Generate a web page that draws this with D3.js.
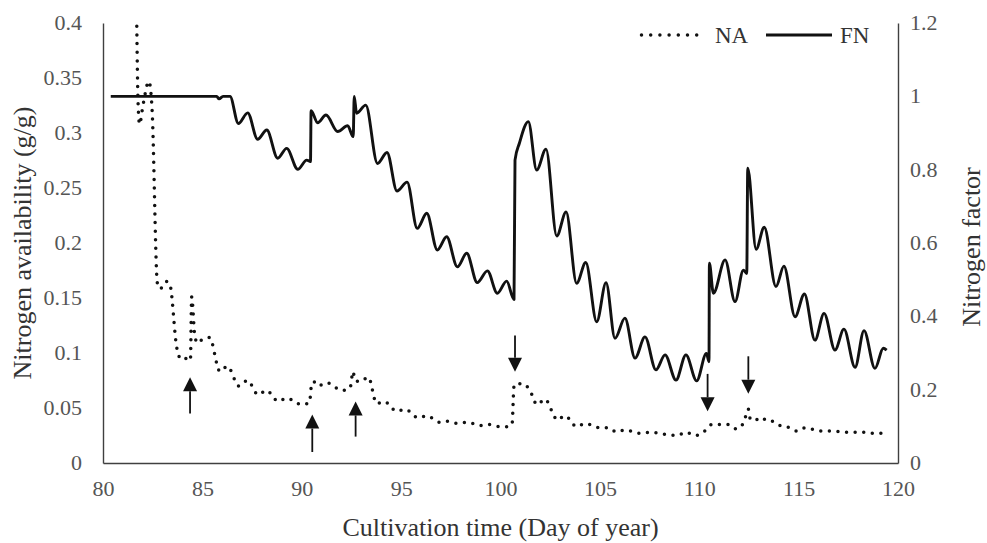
<!DOCTYPE html>
<html>
<head>
<meta charset="utf-8">
<script src="https://cdn.jsdelivr.net/npm/d3@7/dist/d3.min.js"></script>
<style>
  html, body { margin: 0; padding: 0; background: #fff; }
  svg { display: block; }
  text { font-family: "Liberation Serif", "Times New Roman", serif; }
</style>
</head>
<body>
<svg id="chart" width="987" height="543"></svg>
<script>
// Nitrogen availability (NA, g/g) – left axis
const naDays = [81.70, 81.76, 81.84, 82.01, 82.31, 82.47, 82.72, 82.79, 82.97, 83.22, 83.37, 83.71, 83.95, 84.18, 84.33, 84.40, 84.46, 84.63, 84.78, 85.03, 85.36, 85.89, 86.26, 86.84, 87.27, 87.81, 88.22, 88.82, 89.24, 90.00, 90.39, 90.49, 90.59, 90.82, 91.26, 92.01, 92.43, 92.58, 92.68, 92.93, 93.35, 93.77, 94.14, 94.78, 95.20, 95.86, 96.29, 96.96, 97.31, 97.86, 98.33, 98.97, 99.37, 99.97, 100.28, 100.58, 100.68, 100.75, 101.15, 101.48, 101.84, 102.24, 102.64, 102.84, 103.25, 103.83, 104.25, 105.01, 105.42, 105.85, 106.26, 107.02, 107.52, 108.28, 108.90, 109.33, 109.79, 110.20, 110.63, 111.04, 111.46, 111.85, 112.22, 112.47, 112.55, 112.81, 112.97, 113.39, 114.06, 114.40, 114.90, 115.32, 116.16, 116.58, 117.50, 117.89, 118.34, 118.74, 119.18];
const naValues = [0.397, 0.330, 0.308, 0.325, 0.347, 0.321, 0.166, 0.159, 0.159, 0.165, 0.162, 0.105, 0.094, 0.095, 0.096, 0.094, 0.151, 0.114, 0.109, 0.113, 0.114, 0.083, 0.088, 0.070, 0.075, 0.062, 0.066, 0.056, 0.059, 0.053, 0.055, 0.071, 0.074, 0.070, 0.073, 0.066, 0.068, 0.083, 0.075, 0.074, 0.078, 0.054, 0.056, 0.047, 0.049, 0.041, 0.043, 0.037, 0.038, 0.036, 0.037, 0.034, 0.035, 0.033, 0.033, 0.035, 0.070, 0.072, 0.072, 0.066, 0.053, 0.058, 0.045, 0.039, 0.043, 0.033, 0.036, 0.032, 0.032, 0.028, 0.030, 0.027, 0.028, 0.026, 0.025, 0.028, 0.025, 0.028, 0.035, 0.035, 0.035, 0.031, 0.036, 0.049, 0.041, 0.042, 0.038, 0.040, 0.034, 0.033, 0.029, 0.032, 0.029, 0.029, 0.028, 0.028, 0.028, 0.027, 0.027];

// Nitrogen factor (FN) – right axis
const fnDays = [80.39, 85.72, 85.84, 86.04, 86.39, 86.81, 87.28, 87.78, 88.24, 88.79, 89.24, 89.80, 90.25, 90.44, 90.47, 90.80, 91.22, 91.81, 92.31, 92.59, 92.64, 92.76, 93.22, 93.81, 94.29, 94.79, 95.30, 95.81, 96.29, 96.82, 97.29, 97.83, 98.30, 98.83, 99.34, 99.84, 100.31, 100.68, 100.73, 100.95, 101.40, 101.82, 102.29, 102.83, 103.30, 103.83, 104.29, 104.84, 105.31, 105.76, 106.26, 106.77, 107.27, 107.82, 108.28, 108.83, 109.33, 109.87, 110.36, 110.49, 110.51, 110.71, 111.30, 111.80, 112.22, 112.39, 112.44, 112.86, 113.27, 113.86, 114.26, 114.82, 115.29, 115.82, 116.28, 116.83, 117.28, 117.84, 118.29, 118.84, 119.26, 119.43];
const fnValues = [1.000, 1.000, 0.993, 1.000, 1.000, 0.926, 0.955, 0.883, 0.908, 0.831, 0.858, 0.801, 0.826, 0.822, 0.961, 0.928, 0.949, 0.904, 0.920, 0.890, 1.000, 0.954, 0.976, 0.817, 0.847, 0.742, 0.766, 0.640, 0.681, 0.581, 0.617, 0.535, 0.572, 0.492, 0.524, 0.463, 0.496, 0.446, 0.826, 0.872, 0.931, 0.799, 0.856, 0.619, 0.685, 0.490, 0.547, 0.385, 0.492, 0.340, 0.395, 0.286, 0.344, 0.254, 0.295, 0.226, 0.295, 0.224, 0.299, 0.276, 0.545, 0.463, 0.554, 0.440, 0.526, 0.517, 0.804, 0.583, 0.643, 0.481, 0.537, 0.399, 0.461, 0.335, 0.408, 0.308, 0.365, 0.261, 0.361, 0.258, 0.313, 0.308];

// Fertilisation events marked with arrows (day, tail and tip on the NA scale)
const arrowDays = [84.38, 90.53, 92.71, 100.73, 110.42, 112.47];
const arrowFrom = [0.045, 0.010, 0.024, 0.116, 0.081, 0.097];
const arrowTo   = [0.078, 0.044, 0.056, 0.083, 0.047, 0.063];

// Axis ticks
const xTicks  = [80, 85, 90, 95, 100, 105, 110, 115, 120];
const naTicks = [0, 0.05, 0.1, 0.15, 0.2, 0.25, 0.3, 0.35, 0.4];
const fnTicks = [0, 0.2, 0.4, 0.6, 0.8, 1, 1.2];

const seriesNames = ["NA", "FN"];
const xTitle = "Cultivation time (Day of year)";
const naTitle = "Nitrogen availability (g/g)";
const fnTitle = "Nitrogen factor";

const svg = d3.select("#chart");
const plot = { left: 103, right: 898, top: 23, bottom: 463 };

const x = d3.scaleLinear().domain([80, 120]).range([plot.left, plot.right]);
const yNA = d3.scaleLinear().domain([0, 0.4]).range([plot.bottom, plot.top]);
const yFN = d3.scaleLinear().domain([0, 1.2]).range([plot.bottom, plot.top]);

const fmt = d => String(+d.toFixed(2));
const axisColor = "#404040";
const tickColor = "#555";

// Bottom axis
const gx = svg.append("g")
  .attr("transform", `translate(0,${plot.bottom})`)
  .call(d3.axisBottom(x).tickValues(xTicks).tickSize(0).tickPadding(12).tickFormat(fmt));
// Left axis
const gl = svg.append("g")
  .attr("transform", `translate(${plot.left},0)`)
  .call(d3.axisLeft(yNA).tickValues(naTicks).tickSize(0).tickPadding(21).tickFormat(fmt));
// Right axis
const gr = svg.append("g")
  .attr("transform", `translate(${plot.right},0)`)
  .call(d3.axisRight(yFN).tickValues(fnTicks).tickSize(0).tickPadding(12).tickFormat(fmt));

[gx, gl, gr].forEach(g => {
  g.select(".domain").attr("stroke", axisColor).attr("stroke-width", 1.4);
  g.selectAll(".tick text")
    .attr("fill", tickColor)
    .attr("font-size", 22)
    .style("font-family", "'Liberation Serif', 'Times New Roman', serif");
});
gx.selectAll(".tick text").attr("dy", "0.95em");
gl.selectAll(".tick text").attr("dy", "0.3em");
gr.selectAll(".tick text").attr("dy", "0.3em");

// NA series – dotted line
const naData = naDays.map((d, i) => [d, naValues[i]]);
svg.append("path")
  .datum(naData)
  .attr("fill", "none")
  .attr("stroke", "#111")
  .attr("stroke-width", 3.5)
  .attr("stroke-linecap", "round")
  .attr("stroke-dasharray", "0 8.6")
  .attr("d", d3.line().x(d => x(d[0])).y(d => yNA(d[1])).curve(d3.curveMonotoneX));

// FN series – solid line
const fnData = fnDays.map((d, i) => [d, fnValues[i]]);
svg.append("path")
  .datum(fnData)
  .attr("fill", "none")
  .attr("stroke", "#111")
  .attr("stroke-width", 2.9)
  .attr("stroke-linejoin", "round")
  .attr("d", d3.line().x(d => x(d[0])).y(d => yFN(d[1])).curve(d3.curveMonotoneX));

// Event arrows
const headLen = 14, headHalf = 7;
arrowDays.forEach((day, i) => {
  const ax = x(day), y0 = yNA(arrowFrom[i]), y1 = yNA(arrowTo[i]);
  const dir = Math.sign(y1 - y0);
  const yb = y1 - dir * headLen;
  svg.append("line")
    .attr("x1", ax).attr("x2", ax).attr("y1", y0).attr("y2", yb)
    .attr("stroke", "#111").attr("stroke-width", 1.8);
  svg.append("path")
    .attr("d", `M${ax - headHalf},${yb} L${ax + headHalf},${yb} L${ax},${y1} Z`)
    .attr("fill", "#111");
});

// Legend
const legend = svg.append("g").attr("font-size", 23).attr("fill", "#333");
legend.append("line")
  .attr("x1", 641.5).attr("x2", 697).attr("y1", 35).attr("y2", 35)
  .attr("stroke", "#111").attr("stroke-width", 3.5)
  .attr("stroke-linecap", "round").attr("stroke-dasharray", "0 9.2");
legend.append("text").attr("x", 715).attr("y", 43).text(seriesNames[0]);
legend.append("line")
  .attr("x1", 766).attr("x2", 832).attr("y1", 35).attr("y2", 35)
  .attr("stroke", "#111").attr("stroke-width", 2.9);
legend.append("text").attr("x", 840).attr("y", 43).text(seriesNames[1]);

// Axis titles
svg.append("text")
  .attr("x", (plot.left + plot.right) / 2).attr("y", 536)
  .attr("text-anchor", "middle").attr("font-size", 26).attr("fill", "#333")
  .text(xTitle);
svg.append("text")
  .attr("transform", `translate(31,${(plot.top + plot.bottom) / 2}) rotate(-90)`)
  .attr("text-anchor", "middle").attr("font-size", 26).attr("fill", "#333")
  .text(naTitle);
svg.append("text")
  .attr("transform", `translate(980,${(plot.top + plot.bottom) / 2 + 4}) rotate(-90)`)
  .attr("text-anchor", "middle").attr("font-size", 26).attr("fill", "#333")
  .text(fnTitle);
</script>
</body>
</html>
